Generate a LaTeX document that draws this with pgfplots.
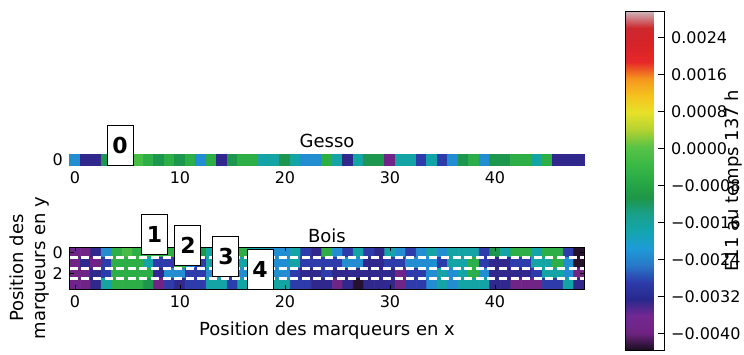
\documentclass[border=0pt]{standalone}
\usepackage{fontspec}
\setmainfont{DejaVu Sans}
\usepackage{pgfplots}
\pgfplotsset{compat=1.18}

% nipy_spectral-like map, a bit muted like the scan
\pgfplotsset{
  colormap={nipy}{
    rgb255(0cm)=(25,15,30); rgb255(1cm)=(110,35,130); rgb255(2cm)=(115,40,145);
    rgb255(3cm)=(40,40,140); rgb255(4cm)=(45,60,170); rgb255(5cm)=(40,120,200);
    rgb255(6cm)=(30,155,215); rgb255(7cm)=(20,165,175); rgb255(8cm)=(25,160,140);
    rgb255(9cm)=(30,150,70); rgb255(10cm)=(40,170,70); rgb255(11cm)=(60,185,70);
    rgb255(12cm)=(90,195,70); rgb255(13cm)=(180,210,50); rgb255(14cm)=(230,225,40);
    rgb255(15cm)=(245,195,30); rgb255(16cm)=(245,150,30); rgb255(17cm)=(230,40,40);
    rgb255(18cm)=(215,35,40); rgb255(19cm)=(205,40,45); rgb255(20cm)=(205,185,190)
  },
  strip/.style={
    scale only axis, width=257.25pt,
    xmin=-0.5, xmax=48.5, y dir=reverse,
    enlargelimits=false, axis on top,
    colormap name=nipy, point meta min=-0.00436, point meta max=0.00297,
    xtick={0,10,20,30,40},
    tick align=inside, major tick length=2pt,
    tick style={black, line width=0.4pt},
    /pgf/number format/assume math mode=true,
    tick label style={font=\fontsize{8}{9}\selectfont},
    label style={font=\fontsize{9}{10.8}\selectfont},
    title style={font=\fontsize{9}{10.8}\selectfont},
  },
}
\tikzset{
  numbox/.style={draw=black, fill=white, line width=0.5pt, minimum width=13pt,
    minimum height=20pt, inner sep=0pt, font=\bfseries\fontsize{11}{12}\selectfont},
  rowsep/.style={white, line width=1.5pt, dash pattern=on 4pt off 1.8pt},
}

\begin{document}
\begin{tikzpicture}
\useasboundingbox (0pt,0pt) rectangle (372pt,-177pt);

\begin{axis}[strip, name=gesso, at={(34.875pt,-82.5pt)}, anchor=south west,
  height=5.25pt, ymin=-0.5, ymax=0.5, ytick={0}, title={Gesso},
  title style={yshift=-6pt}]
% one row only: cells drawn as square marks (cell is 5.25pt square)
\addplot[scatter, only marks, mark=square*, mark size=2.7pt, point meta=explicit,
  scatter/use mapped color={draw=mapped color, fill=mapped color}] coordinates {
(0,0)[-0.0023] (1,0)[-0.0033] (2,0)[-0.0033] (3,0)[-0.0011] (4,0)[-0.0006] (5,0)[-0.0006] (6,0)[-0.0002] (7,0)[-0.0006] (8,0)[-0.0011] (9,0)[-0.0006]
(10,0)[-0.0011] (11,0)[-0.0006] (12,0)[-0.0023] (13,0)[-0.0006] (14,0)[-0.0033] (15,0)[-0.0011] (16,0)[-0.0006] (17,0)[-0.0006] (18,0)[-0.0017] (19,0)[-0.0017]
(20,0)[-0.0011] (21,0)[-0.0017] (22,0)[-0.0023] (23,0)[-0.0023] (24,0)[-0.0006] (25,0)[-0.0017] (26,0)[-0.0033] (27,0)[-0.0017] (28,0)[-0.0011] (29,0)[-0.0011]
(30,0)[-0.0039] (31,0)[-0.0017] (32,0)[-0.0017] (33,0)[-0.0029] (34,0)[-0.0017] (35,0)[-0.0029] (36,0)[-0.0023] (37,0)[-0.0011] (38,0)[-0.0006] (39,0)[-0.0023]
(40,0)[-0.0011] (41,0)[-0.0011] (42,0)[-0.0006] (43,0)[-0.0006] (44,0)[-0.0017] (45,0)[-0.0006] (46,0)[-0.0033] (47,0)[-0.0033] (48,0)[-0.0033]
};
\coordinate (b0) at (axis cs:4.29,-1.40);
\end{axis}

\begin{axis}[strip, name=bois, at={(34.875pt,-144.5pt)}, anchor=south west,
  height=21pt, ymin=-0.5, ymax=3.5, ytick={0,2}, title={Bois},
  title style={yshift=-7.5pt},
  xlabel={Position des marqueurs en x},
  ylabel={Position des\\marqueurs en y}, ylabel style={align=center},
  ylabel shift=-5pt,
  colorbar,
  colorbar style={
    at={(parent axis.north east)}, anchor=north west,
    xshift=11.875pt, yshift=118pt,
    scale only axis, width=19.5pt, height=169.5pt, y dir=normal,
    xtick=\empty, xlabel={}, title={},
    ytick={-0.004,-0.0032,-0.0024,-0.0016,-0.0008,0,0.0008,0.0016,0.0024},
    yticklabels={−0.0040,−0.0032,−0.0024,−0.0016,−0.0008,0.0000,0.0008,0.0016,0.0024},
    scaled y ticks=false, ytick pos=right, yticklabel pos=right,
    tick align=inside, major tick length=3pt,
    tick label style={font=\fontsize{8}{9}\selectfont},
    ylabel={E11 au temps 137 h},
    every axis y label/.style={at={(rel axis cs:1,0.5)}, xshift=27pt, rotate=90,
      anchor=north, font=\fontsize{9}{10.8}\selectfont},
  }]
\addplot[matrix plot*, mesh/cols=49, point meta=explicit] coordinates {
(0,0)[-0.0039] (1,0)[-0.0039] (2,0)[-0.0033] (3,0)[-0.0023] (4,0)[-0.0006] (5,0)[-0.0002] (6,0)[-0.0006] (7,0)[-0.0006] (8,0)[-0.0006] (9,0)[-0.0006]
(10,0)[-0.0011] (11,0)[-0.0017] (12,0)[-0.0011] (13,0)[-0.0017] (14,0)[-0.0017] (15,0)[-0.0006] (16,0)[-0.0006] (17,0)[-0.0017] (18,0)[-0.0017] (19,0)[-0.0023]
(20,0)[-0.0023] (21,0)[-0.0017] (22,0)[-0.0029] (23,0)[-0.0033] (24,0)[-0.0006] (25,0)[-0.0023] (26,0)[-0.0029] (27,0)[-0.0017] (28,0)[-0.0029] (29,0)[-0.0033]
(30,0)[-0.0017] (31,0)[-0.0023] (32,0)[-0.0029] (33,0)[-0.0023] (34,0)[-0.0017] (35,0)[-0.0023] (36,0)[-0.0017] (37,0)[-0.0017] (38,0)[-0.0017] (39,0)[-0.0029]
(40,0)[-0.0011] (41,0)[-0.0017] (42,0)[-0.0006] (43,0)[-0.0006] (44,0)[-0.0017] (45,0)[-0.0006] (46,0)[-0.0006] (47,0)[-0.0029] (48,0)[-0.0043]
(0,1)[-0.0039] (1,1)[-0.0033] (2,1)[-0.0039] (3,1)[-0.0029] (4,1)[-0.0006] (5,1)[-0.0006] (6,1)[-0.0006] (7,1)[-0.0017] (8,1)[-0.0029] (9,1)[-0.0029]
(10,1)[-0.0006] (11,1)[-0.0023] (12,1)[-0.0029] (13,1)[-0.0017] (14,1)[-0.0017] (15,1)[-0.0023] (16,1)[-0.0017] (17,1)[-0.0023] (18,1)[-0.0029] (19,1)[-0.0023]
(20,1)[-0.0023] (21,1)[-0.0017] (22,1)[-0.0029] (23,1)[-0.0029] (24,1)[-0.0029] (25,1)[-0.0029] (26,1)[-0.0023] (27,1)[-0.0023] (28,1)[-0.0033] (29,1)[-0.0033]
(30,1)[-0.0029] (31,1)[-0.0029] (32,1)[-0.0023] (33,1)[-0.0023] (34,1)[-0.0023] (35,1)[-0.0029] (36,1)[-0.0017] (37,1)[-0.0017] (38,1)[-0.0006] (39,1)[-0.0029]
(40,1)[-0.0033] (41,1)[-0.0033] (42,1)[-0.0029] (43,1)[-0.0029] (44,1)[-0.0017] (45,1)[-0.0017] (46,1)[-0.0006] (47,1)[-0.0023] (48,1)[-0.0043]
(0,2)[-0.0039] (1,2)[-0.0039] (2,2)[-0.0033] (3,2)[-0.0029] (4,2)[-0.0006] (5,2)[-0.0006] (6,2)[-0.0006] (7,2)[-0.0006] (8,2)[-0.0033] (9,2)[-0.0023]
(10,2)[-0.0023] (11,2)[-0.0029] (12,2)[-0.0029] (13,2)[-0.0023] (14,2)[-0.0017] (15,2)[-0.0029] (16,2)[-0.0023] (17,2)[-0.0029] (18,2)[-0.0023] (19,2)[-0.0023]
(20,2)[-0.0023] (21,2)[-0.0029] (22,2)[-0.0033] (23,2)[-0.0033] (24,2)[-0.0029] (25,2)[-0.0033] (26,2)[-0.0033] (27,2)[-0.0033] (28,2)[-0.0033] (29,2)[-0.0033]
(30,2)[-0.0033] (31,2)[-0.0039] (32,2)[-0.0029] (33,2)[-0.0029] (34,2)[-0.0023] (35,2)[-0.0017] (36,2)[-0.0023] (37,2)[-0.0017] (38,2)[-0.0006] (39,2)[-0.0023]
(40,2)[-0.0033] (41,2)[-0.0033] (42,2)[-0.0033] (43,2)[-0.0033] (44,2)[-0.0029] (45,2)[-0.0017] (46,2)[-0.0017] (47,2)[-0.0023] (48,2)[-0.0039]
(0,3)[-0.0039] (1,3)[-0.0039] (2,3)[-0.0033] (3,3)[-0.0017] (4,3)[-0.0006] (5,3)[-0.0006] (6,3)[-0.0006] (7,3)[-0.0011] (8,3)[-0.0039] (9,3)[-0.0029]
(10,3)[-0.0033] (11,3)[-0.0029] (12,3)[-0.0029] (13,3)[-0.0017] (14,3)[-0.0017] (15,3)[-0.0029] (16,3)[-0.0017] (17,3)[-0.0017] (18,3)[-0.0023] (19,3)[-0.0017]
(20,3)[-0.0017] (21,3)[-0.0029] (22,3)[-0.0029] (23,3)[-0.0033] (24,3)[-0.0033] (25,3)[-0.0039] (26,3)[-0.0033] (27,3)[-0.0043] (28,3)[-0.0033] (29,3)[-0.0033]
(30,3)[-0.0033] (31,3)[-0.0039] (32,3)[-0.0029] (33,3)[-0.0029] (34,3)[-0.0023] (35,3)[-0.0017] (36,3)[-0.0023] (37,3)[-0.0017] (38,3)[-0.0017] (39,3)[-0.0017]
(40,3)[-0.0033] (41,3)[-0.0033] (42,3)[-0.0039] (43,3)[-0.0039] (44,3)[-0.0039] (45,3)[-0.0029] (46,3)[-0.0029] (47,3)[-0.0017] (48,3)[-0.0033]
};
% row separators
\draw[rowsep] (axis cs:-0.5,0.5) -- (axis cs:48.5,0.5);
\draw[rowsep] (axis cs:-0.5,1.5) -- (axis cs:48.5,1.5);
\draw[rowsep] (axis cs:-0.5,2.5) -- (axis cs:48.5,2.5);
\coordinate (b1) at (axis cs:7.57,-1.69);
\coordinate (b2) at (axis cs:10.76,-0.69);
\coordinate (b3) at (axis cs:14.38,0.45);
\coordinate (b4) at (axis cs:17.62,1.64);
\end{axis}

\node[numbox] at (b0) {0};
\node[numbox] at (b1) {1};
\node[numbox] at (b2) {2};
\node[numbox] at (b3) {3};
\node[numbox] at (b4) {4};
\end{tikzpicture}
\end{document}
